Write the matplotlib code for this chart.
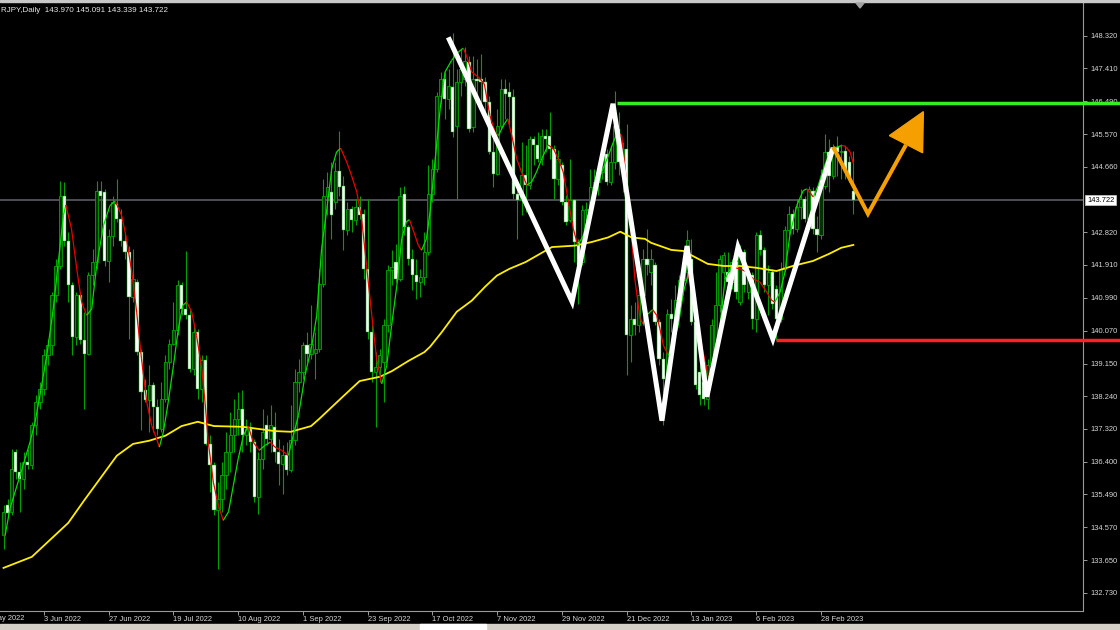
import matplotlib
matplotlib.use('Agg')
import matplotlib.pyplot as plt
import numpy as np
from matplotlib.collections import LineCollection
from matplotlib.patches import Polygon, Rectangle
import matplotlib.transforms as mtransforms

# ---------------- data ----------------
opens = [134.34,135.20,134.99,136.67,136.11,135.92,136.39,136.30,137.42,138.07,
         138.44,139.38,139.66,141.06,141.89,143.85,142.59,141.34,139.89,141.06,
         139.80,139.42,141.62,141.99,143.99,143.95,142.03,142.73,143.62,143.20,
         142.59,142.27,141.01,141.43,139.47,138.40,138.12,138.54,137.93,137.32,
         138.16,139.19,139.70,140.08,141.34,140.68,140.50,139.00,140.03,138.44,
         139.24,136.90,136.30,135.04,135.37,136.02,136.67,137.14,137.60,137.88,
         137.14,137.33,136.95,135.41,136.49,137.42,137.05,137.37,136.67,136.35,
         136.58,136.16,137.00,138.63,138.91,139.66,139.42,139.45,139.56,141.38,
         143.85,143.95,143.67,144.55,144.13,142.88,143.48,143.16,143.53,143.34,
         141.80,140.03,138.91,139.05,139.19,140.22,141.76,141.99,141.52,143.90,
         142.97,142.08,141.62,141.43,141.57,142.27,143.90,144.60,146.65,147.12,
         146.56,146.89,145.81,147.03,147.12,147.59,145.77,147.12,147.12,147.03,
         146.47,145.07,144.46,145.81,146.84,146.75,146.61,143.90,143.72,144.42,
         144.14,145.44,145.26,144.88,145.53,145.53,145.16,144.32,144.70,143.67,
         143.16,143.72,142.55,141.99,143.44,143.48,144.09,144.23,144.51,145.02,
         144.23,144.79,145.72,144.79,145.16,139.94,140.40,140.22,141.06,142.08,
         141.71,141.90,140.31,139.28,138.82,140.54,140.40,140.92,141.48,141.71,
         142.08,140.31,138.91,138.63,138.16,139.10,139.56,140.78,141.71,141.71,
         141.43,141.99,140.87,142.27,141.15,141.62,140.40,142.74,142.32,141.34,
         141.71,141.24,140.40,141.80,142.88,143.34,142.92,143.53,143.76,143.20,
         143.99,142.92,142.74,144.13,145.07,144.41,145.21,145.07,145.11,144.79,
         143.970]
highs = [135.18,135.35,136.76,136.76,136.39,136.67,136.76,137.51,138.26,138.63,
         139.56,139.84,141.15,142.08,144.27,144.23,142.83,141.43,141.15,141.15,
         140.59,141.71,142.36,144.27,144.27,144.04,142.92,143.85,144.32,143.48,
         142.83,142.45,142.36,141.52,139.56,138.72,139.10,138.63,138.16,138.63,
         139.38,139.84,140.87,141.48,141.43,142.31,140.68,140.22,140.12,139.38,
         139.38,137.14,136.39,135.83,136.39,137.23,137.79,138.16,138.35,138.40,
         137.60,137.51,137.05,136.67,137.88,137.70,137.98,137.79,137.05,136.86,
         136.95,137.98,139.00,139.28,139.75,140.03,140.78,140.03,141.80,144.32,
         144.51,144.79,144.79,145.67,144.41,143.67,143.57,143.76,143.85,143.48,
         143.76,140.22,139.47,139.56,140.40,141.90,142.32,142.50,144.09,144.13,
         143.02,142.36,142.08,141.80,142.83,144.70,144.88,146.75,147.31,147.31,
         147.40,148.41,147.40,147.96,148.01,147.77,147.77,147.68,147.82,147.17,
         146.65,145.44,146.28,147.12,147.12,147.03,146.84,144.23,145.35,145.26,
         145.53,145.53,145.63,145.72,145.72,146.19,145.26,145.12,144.79,143.86,
         144.88,143.76,142.64,143.58,143.67,144.60,144.60,144.70,145.16,145.16,
         145.26,146.79,146.19,145.35,145.86,140.78,140.87,141.43,142.36,142.92,
         142.36,141.99,140.40,139.47,140.68,140.96,141.34,141.62,141.90,142.88,
         142.64,140.40,139.10,139.10,139.28,140.40,141.71,142.18,142.27,142.27,
         142.08,142.08,142.46,142.36,141.90,141.71,142.83,142.88,142.41,141.90,
         141.80,141.34,141.99,143.01,143.57,143.48,143.76,144.04,143.85,144.13,
         144.09,143.29,144.60,145.58,145.44,145.30,145.53,145.30,145.25,144.97,
         145.091]
lows = [133.97,134.85,134.90,135.92,134.99,135.64,136.20,136.20,137.14,137.88,
        138.26,139.10,139.38,140.87,141.80,142.45,140.87,139.38,139.66,139.70,
        137.88,139.38,141.34,141.80,142.73,141.89,141.43,142.45,143.11,142.45,
        142.08,139.84,140.87,139.38,137.28,138.07,137.23,137.23,137.14,137.23,
        138.07,139.00,139.66,139.94,140.50,140.40,138.91,138.82,138.16,138.07,
        136.86,135.55,134.90,133.41,134.99,135.65,136.11,136.67,137.14,136.67,
        136.86,136.67,135.27,134.95,136.21,136.86,136.67,136.39,135.74,135.51,
        136.02,136.11,136.86,138.35,138.72,139.19,139.28,138.72,139.47,141.29,
        143.30,142.64,143.48,143.85,142.32,142.74,142.83,143.02,143.20,141.52,
        139.84,138.63,137.37,138.63,138.07,140.03,141.34,141.43,141.45,142.74,
        141.90,141.20,140.96,141.01,141.34,142.18,143.67,144.51,146.42,146.00,
        146.28,145.50,143.76,146.65,146.93,145.63,145.63,146.65,146.37,146.09,
        145.02,144.09,144.42,145.72,146.00,145.81,143.76,142.64,143.30,143.39,
        144.04,144.70,144.79,144.70,145.07,144.88,143.76,144.14,143.58,143.02,
        143.11,141.99,140.82,141.90,142.92,143.30,143.67,143.86,144.32,144.14,
        144.14,144.60,144.42,143.95,138.82,139.19,139.94,140.03,140.22,141.62,
        141.34,140.22,139.10,137.42,138.63,140.03,140.22,140.59,141.06,141.52,
        140.22,138.44,137.98,137.98,137.88,138.82,139.47,140.59,141.52,141.34,
        141.24,140.96,140.78,141.15,140.96,140.12,140.03,142.18,141.15,140.50,
        140.68,139.82,140.31,141.71,142.74,142.78,142.83,143.20,143.11,143.11,
        142.78,142.27,142.64,144.04,143.95,144.32,144.41,144.32,144.32,144.23,
        143.339]
closes = [134.99,134.98,136.20,136.11,135.92,136.39,136.30,137.42,138.07,138.44,
          139.38,139.66,141.06,141.89,143.85,142.59,141.34,139.89,141.06,139.80,
          139.42,141.62,141.99,143.99,143.85,142.03,142.73,143.67,143.20,142.59,
          142.27,141.01,141.52,139.47,138.35,138.12,138.54,137.93,137.32,138.16,
          139.19,139.70,140.08,141.34,140.68,140.50,139.00,140.03,138.44,139.24,
          136.90,136.30,135.04,135.37,136.02,136.67,137.14,137.60,137.88,137.14,
          137.33,136.95,135.41,136.49,137.23,137.05,137.42,136.67,136.35,136.58,
          136.16,137.00,138.63,138.91,139.66,139.42,139.70,139.56,141.38,143.85,
          144.09,143.30,144.55,144.09,142.88,143.48,143.16,143.53,143.30,141.80,
          140.03,138.91,139.05,139.38,140.22,141.76,141.85,141.52,143.85,142.97,
          142.08,141.62,141.43,141.57,142.27,143.90,144.60,146.65,147.12,146.56,
          146.93,145.63,147.03,147.40,147.63,145.72,147.12,147.07,147.03,146.47,
          145.07,144.46,145.81,146.84,146.70,146.61,143.90,143.72,144.42,144.14,
          145.44,145.26,144.88,145.53,145.44,145.16,144.32,144.88,143.67,143.11,
          143.72,142.55,141.90,143.44,143.48,144.09,144.23,144.51,145.02,144.23,
          144.79,145.81,144.79,145.16,139.94,140.40,140.22,141.06,142.08,141.90,
          142.08,140.31,139.28,138.72,140.54,140.40,140.92,141.48,141.71,142.60,
          140.31,138.54,138.26,138.16,139.10,140.22,140.78,142.08,142.18,141.43,
          141.99,141.15,142.27,141.34,141.62,140.40,142.74,142.32,141.34,141.71,
          140.82,140.40,141.80,142.88,143.34,142.92,143.53,143.76,143.20,144.04,
          142.92,142.74,144.13,145.07,144.41,145.21,145.07,145.11,144.51,144.37,
          143.722]

date_tick_bars = [10, 26, 42, 58, 74, 90, 106, 122, 138, 154, 170, 186, 202]
date_tick_labels = ['3 Jun 2022', '27 Jun 2022', '19 Jul 2022', '10 Aug 2022',
                    '1 Sep 2022', '23 Sep 2022', '17 Oct 2022', '7 Nov 2022',
                    '29 Nov 2022', '21 Dec 2022', '13 Jan 2023', '6 Feb 2023',
                    '28 Feb 2023']
first_cut_label = '12 May 2022'
price_ticks = [132.73, 133.65, 134.57, 135.49, 136.40, 137.32, 138.24, 139.15,
               140.07, 140.99, 141.91, 142.82, 144.66, 145.57, 146.49, 147.41, 148.32]
last_price = 143.722
header = 'RJPY,Daily  143.970 145.091 143.339 143.722'

slow_ma_bars = [0, 7, 16, 20, 24, 28, 32, 36, 40, 44, 48, 52, 59, 67, 71, 76, 78,
                84, 88, 93, 96, 100, 104, 105.4, 108.3, 112, 115.7, 119, 121.9, 125,
                129, 135.5, 141.2, 145.3, 149.4, 152.4, 155.2, 158.5, 160, 165, 168,
                174, 178, 182, 186, 191, 195, 200, 204, 207, 210]
slow_ma_values = [133.43, 133.74, 134.69, 135.33, 135.95, 136.57, 136.90, 136.99,
                  137.13, 137.40, 137.52, 137.40, 137.38, 137.26, 137.24, 137.40,
                  137.60, 138.24, 138.66, 138.78, 138.94, 139.22, 139.47, 139.62,
                  140.03, 140.60, 140.91, 141.30, 141.61, 141.80, 141.99, 142.41,
                  142.45, 142.55, 142.68, 142.84, 142.68, 142.64, 142.53, 142.33,
                  142.30, 141.94, 141.88, 141.88, 141.83, 141.74, 141.88, 142.02,
                  142.22, 142.39, 142.47]

fast_ma_bars = [0, 0.4, 1.6, 4.1, 6.55, 7.8, 9.0, 10.7, 12.3, 13.55, 14.8, 15.4, 16.8,
                18.1, 19.3, 20.55, 21.8, 23.0, 24.7, 26.3, 27.6, 29.2, 30.4, 31.7,
                32.9, 34.1, 35.4, 36.6, 37.85, 38.5, 39.5, 40.7, 42.0, 43.2, 44.3,
                45.3, 46.5, 47.7, 49.0, 49.8, 50.6, 51.85, 53.1, 54.3, 55.6, 56.8,
                58.0, 59.3, 60.5, 61.7, 63.2, 64.6, 65.9, 67.1, 68.7, 70.4, 71.6,
                72.9, 74.5, 76.2, 77.4, 78.6, 79.9, 81.1, 82.3, 83.3, 84.8, 86.0,
                87.3, 88.5, 89.7, 91.0, 92.2, 93.45, 94.7, 95.9, 97.2, 98.4, 99.5,
                100.3, 101.4, 102.5, 103.3, 104.5, 105.4, 106.6, 107.9, 109.1,
                110.7, 112.4, 113.6, 114.4, 115.7, 117.3, 118.8, 120.2, 121.45,
                122.3, 123.5, 124.6, 125.6, 126.8, 128.0, 129.3, 130.5, 131.7,
                133.0, 134.6, 135.9, 137.1, 138.3, 139.6, 140.8, 141.9, 143.3,
                144.5, 146.2, 147.8, 149.5, 150.7, 151.8, 152.75, 153.6, 154.8,
                156.0, 157.3, 158.1, 158.9, 160.4, 161.4, 162.2, 163.05, 164.3,
                165.5, 166.75, 168.0, 169.2, 170.9, 172.5, 174.2, 175.4, 177.05,
                178.3, 179.8, 182.0, 183.5, 185.3, 186.9, 188.6, 189.8, 190.6,
                191.9, 193.1, 194.3, 196.0, 197.6, 198.5, 199.3, 200.1, 201.3,
                202.6, 204.2, 205.9, 207.1, 207.9, 209.2, 210.0]
fast_ma_values = [134.36, 134.34, 135.09, 136.02, 136.95, 137.51, 138.26, 139.38,
                  140.68, 141.99, 143.29, 143.59, 142.92, 141.80, 140.87, 140.50,
                  140.68, 141.89, 143.01, 143.57, 143.70, 143.29, 142.64, 141.71,
                  140.59, 139.28, 138.07, 137.42, 137.04, 136.81, 137.23, 138.07,
                  139.10, 140.12, 140.78, 140.87, 140.59, 139.94, 139.00, 138.07,
                  136.95, 135.83, 135.18, 134.76, 135.00, 135.74, 136.49, 137.14,
                  137.40, 136.95, 136.72, 136.86, 136.95, 136.81, 136.72, 136.58,
                  137.14, 137.70, 138.82, 139.66, 140.50, 142.36, 143.48, 144.60,
                  145.07, 145.18, 144.79, 144.41, 143.95, 143.20, 141.90, 140.50,
                  139.28, 138.58, 139.10, 140.22, 141.34, 142.64, 143.11, 143.18,
                  142.83, 142.46, 142.32, 142.64, 143.39, 144.79, 146.28, 147.31,
                  147.63, 147.87, 147.98, 147.77, 147.31, 147.17, 146.98, 146.09,
                  145.63, 145.53, 145.81, 146.00, 145.53, 144.88, 144.51, 144.14,
                  144.23, 144.51, 144.88, 145.27, 145.16, 144.88, 144.51, 143.67,
                  142.92, 142.46, 142.74, 143.30, 143.86, 144.51, 144.98, 145.35,
                  145.63, 145.53, 144.60, 143.30, 141.52, 140.40, 140.26, 140.50,
                  140.66, 140.50, 140.12, 139.66, 139.38, 139.75, 140.22, 141.15,
                  141.66, 140.78, 139.66, 138.77, 138.91, 140.22, 141.52, 141.85,
                  141.80, 141.72, 141.52, 141.43, 141.15, 140.92, 140.87, 141.15,
                  141.71, 142.74, 143.57, 143.99, 144.04, 143.93, 143.81, 144.13,
                  144.60, 145.07, 145.21, 145.25, 145.24, 145.07, 144.75]

# drawn annotations (anchored in bar / price)
w_bars = [109.9, 140.5, 150.6, 162.7, 168.9, 173.8, 181.5, 190.1, 205.0]
w_prices = [148.28, 140.88, 146.42, 137.55, 142.44, 138.22, 142.41, 139.84, 145.19]
arrow_bars = [205.0, 213.6, 223.0]
arrow_prices = [145.21, 143.34, 145.27]
arrow_head_bars = [218.9, 227.3, 227.1]
arrow_head_prices = [145.53, 146.20, 145.05]
resistance_level = 146.44
resistance_start = 151.6
support_level = 139.81
support_start = 190.9

# ---------------- figure ----------------
FONT = 'Liberation Sans'
W, H = 1120, 630
fig = plt.figure(figsize=(W / 100, H / 100), dpi=100, facecolor='black')
ax_right_px, ax_bottom_px = 1083, 611
ax = fig.add_axes([0, (H - ax_bottom_px) / H, ax_right_px / W, ax_bottom_px / H])
ax.set_facecolor('black')

px_per_bar = 4.047
x0_px = 3.5
ax.set_xlim((0 - x0_px) / px_per_bar, (ax_right_px - x0_px) / px_per_bar)
ax.set_ylim(132.224, 149.325)

idx = np.arange(len(closes))
o = np.array(opens); h = np.array(highs); l = np.array(lows); c = np.array(closes)
up = c >= o

# current price line
ax.axhline(last_price, color='#62626e', lw=1.1, zorder=1)

# candles
ax.vlines(idx, l, h, color='#00a000', lw=0.8, zorder=2)
bottom = np.minimum(o, c)
height = np.maximum(np.abs(c - o), 0.03)
ax.bar(idx[up], height[up], bottom=bottom[up], width=0.8, color='#003300',
       edgecolor='#00a800', lw=0.6, zorder=3)
ax.bar(idx[~up], height[~up], bottom=bottom[~up], width=0.8, color='white',
       edgecolor='#00a800', lw=0.35, zorder=3)

# slow MA (yellow)
ax.plot(slow_ma_bars, slow_ma_values, color='#ffee00', lw=1.3, zorder=4)

# fast MA, green when rising, red when falling
fb = np.array(fast_ma_bars); fv = np.array(fast_ma_values)
pts = np.column_stack([fb, fv])
segs = np.stack([pts[:-1], pts[1:]], axis=1)
cols = ['#00e000' if fv[i + 1] >= fv[i] else '#ee0000' for i in range(len(fv) - 1)]
ax.add_collection(LineCollection(segs, colors=cols, linewidths=0.9, zorder=5))

# horizontal levels
right_edge = (W - x0_px) / px_per_bar
ax.plot([resistance_start, right_edge], [resistance_level] * 2, color='#33ee22',
        lw=2.5, solid_capstyle='butt', clip_on=False, zorder=6)
ax.plot([support_start, right_edge], [support_level] * 2, color='#ff2020',
        lw=2.5, solid_capstyle='butt', clip_on=False, zorder=6)

# W zigzag
ax.plot(w_bars, w_prices, color='white', lw=3.6, solid_joinstyle='miter',
        solid_capstyle='butt', zorder=7)
# orange projection arrow
ax.plot(arrow_bars, arrow_prices, color='#f5a000', lw=2.9, solid_joinstyle='miter',
        solid_capstyle='butt', clip_on=False, zorder=8)
ax.add_patch(Polygon(np.column_stack([arrow_head_bars, arrow_head_prices]),
                     closed=True, color='#f5a000', zorder=8, clip_on=False))

# axes styling
for s in ['top', 'left']:
    ax.spines[s].set_visible(False)
for s in ['right', 'bottom']:
    ax.spines[s].set_color('#9a9a9a')
    ax.spines[s].set_linewidth(0.8)

ax.yaxis.tick_right()
ax.set_yticks(price_ticks)
ax.set_yticklabels([f'{v:.3f}' for v in price_ticks])
ax.tick_params(axis='y', colors='#9a9a9a', labelcolor='#d8d8d8', labelsize=5.4,
               length=3, width=0.7, pad=2.5, direction='out')
ax.set_xticks(date_tick_bars)
ax.set_xticklabels(date_tick_labels, ha='left')
ax.tick_params(axis='x', colors='#9a9a9a', labelcolor='#d8d8d8', labelsize=5.4,
               length=3, width=0.7, pad=0.8, direction='out')
for lab in ax.get_xticklabels() + ax.get_yticklabels():
    lab.set_family(FONT)

# label of the date tick left of the visible range (only its end shows, as in the reference)
fig.text(-19 / W, (H - 618) / H, first_cut_label, color='#d8d8d8', fontsize=5.4,
         va='center', ha='left', family=FONT)

# current price box
trans = mtransforms.blended_transform_factory(ax.transAxes, ax.transData)
ax.text(1.0 + 4 / ax_right_px, last_price, f'{last_price:.3f}', transform=trans,
        va='center', ha='left', fontsize=5.4, color='black', zorder=10, family=FONT,
        bbox=dict(boxstyle='square,pad=0.22', fc='white', ec='#cccccc', lw=0.5),
        clip_on=False)

# header
fig.text(1 / W, 1 - 10 / H, header, color='#e6e6e6', fontsize=5.8, va='center',
         ha='left', family=FONT)

# top border strip and shift marker
fig.patches.append(Rectangle((0, 1 - 2 / H), 1, 2 / H, transform=fig.transFigure,
                             color='#c8c8c8', zorder=0))
fig.patches.append(Polygon([[856 / W, 1 - 3 / H], [864 / W, 1 - 3 / H],
                            [860 / W, 1 - 8 / H]], closed=True,
                           transform=fig.transFigure, color='#a0a0a0'))
# bottom tab strip
fig.patches.append(Rectangle((0, 0), 1, 6 / H, transform=fig.transFigure,
                             color='#d4d0c8', zorder=0))
fig.patches.append(Rectangle((420 / W, 0), 66 / W, 6 / H, transform=fig.transFigure,
                             color='#ffffff', zorder=0))

fig.savefig('out.png', dpi=100, facecolor='black')
